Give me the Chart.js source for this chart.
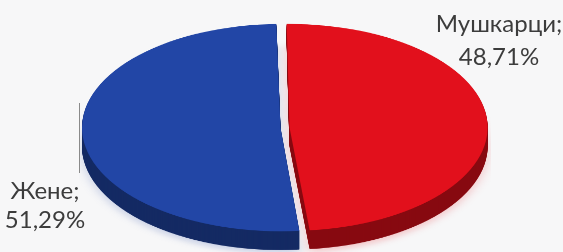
<!DOCTYPE html>
<html><head><meta charset="utf-8">
<script src="https://cdn.jsdelivr.net/npm/chart.js@4/dist/chart.umd.min.js"></script>
<style>
html,body{margin:0;padding:0;background:#f7f7f8;width:563px;height:252px;overflow:hidden;position:relative;font-family:Lato,"Open Sans",sans-serif;}
#wrap{position:absolute;left:79px;top:20px;width:412px;height:458px;transform-origin:0 0;transform:scaleY(0.522);}
canvas{display:block;}
.lbl{position:absolute;color:#3c3c3c;font-size:24px;text-align:center;white-space:nowrap;}
#leader{position:absolute;left:79px;top:103px;width:1px;height:70px;background:#8a8a8a;}
</style></head>
<body>
<div id="wrap"><canvas id="c" width="412" height="458"></canvas></div>
<div id="leader"></div>
<div id="l0" class="lbl" style="left:419px;top:6px;width:160px;line-height:33px;"></div>
<div id="l1" class="lbl" style="left:0px;top:175px;width:90px;line-height:29px;"></div>
<script>
const categories = ["Мушкарци", "Жене"];
const values = [48.71, 51.29];
const valueLabels = ["48,71%", "51,29%"];
const topColors = ["#e2101c", "#2246a6"];

categories.forEach((c, i) => {
  document.getElementById('l' + i).innerHTML = c + ';<br>' + valueLabels[i];
});

const DEPTH = 36; // canvas px before vertical squash
const sidePlugin = {
  id: 'side',
  beforeDatasetsDraw(chart) {
    const ctx = chart.ctx;
    const meta = chart.getDatasetMeta(0);
    ctx.save();
    ctx.filter = 'blur(6px)';
    ctx.globalAlpha = 0.22;
    ctx.translate(0, DEPTH + 6);
    meta.data.forEach(a => a.draw(ctx));
    ctx.restore();
    ctx.save();
    ctx.filter = 'brightness(0.6)';
    for (let i = DEPTH; i >= 1; i--) {
      ctx.save();
      ctx.translate(0, i);
      meta.data.forEach(a => a.draw(ctx));
      ctx.restore();
    }
    ctx.restore();
  }
};

new Chart(document.getElementById('c'), {
  type: 'pie',
  data: {
    labels: categories,
    datasets: [{
      data: values,
      backgroundColor: topColors,
      borderWidth: 0,
      offset: 18
    }]
  },
  options: {
    responsive: false,
    animation: false,
    rotation: -1,
    layout: { padding: { top: 3, left: 3, right: 3, bottom: 49 } },
    plugins: { legend: { display: false }, tooltip: { enabled: false } }
  },
  plugins: [sidePlugin]
});
</script>
</body></html>
